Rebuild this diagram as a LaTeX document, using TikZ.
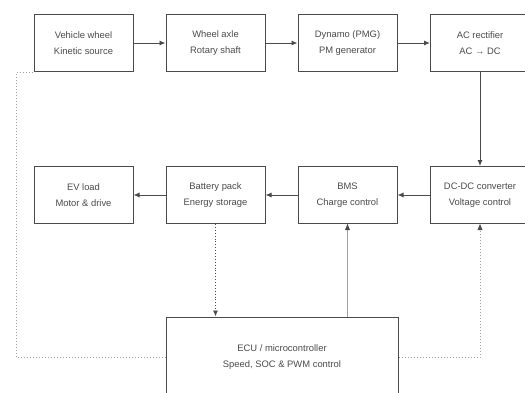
\documentclass[tikz,border=0pt]{standalone}
\usepackage{fontspec}
\setmainfont{Liberation Sans}
\usetikzlibrary{arrows.meta}
\definecolor{ink}{HTML}{4A4A4A}
\definecolor{soft}{HTML}{A0A0A0}
\tikzset{
  blk/.style={draw=ink, line width=1pt, minimum width=99pt, minimum height=57pt, align=center, font=\fontsize{9.4}{15.5}\selectfont, text=ink, inner sep=0pt},
  flow/.style={draw=ink, line width=0.9pt, -{Latex[length=6pt,width=5pt]}},
  ctl/.style={draw=soft, line width=1pt, dotted},
}
\begin{document}
\begin{tikzpicture}[x=1pt,y=-1pt]
\useasboundingbox (0,0) rectangle (525,392);
\node[blk] (wheel) at (83.5,43) {Vehicle wheel\\Kinetic source};
\node[blk] (axle) at (215.5,43) {Wheel axle\\Rotary shaft};
\node[blk] (dyn) at (347.5,43) {Dynamo (PMG)\\PM generator};
\node[blk] (rect) at (480,43) {AC rectifier\\AC → DC};
\node[blk] (ev) at (83.5,195) {EV load\\Motor \& drive};
\node[blk] (bat) at (215.5,195) {Battery pack\\Energy storage};
\node[blk] (bms) at (347.5,195) {BMS\\Charge control};
\node[blk] (dcdc) at (480,195) {DC-DC converter\\Voltage control};
\node[blk, minimum width=232pt, minimum height=80pt] (ecu) at (282,357) {ECU / microcontroller\\Speed, SOC \& PWM control};
\draw[flow] (wheel) -- (axle);
\draw[flow] (axle) -- (dyn);
\draw[flow] (dyn) -- (rect);
\draw[flow] (rect) -- (dcdc);
\draw[flow] (dcdc) -- (bms);
\draw[flow] (bms) -- (bat);
\draw[flow] (bat) -- (ev);
\draw[flow, dotted] (bat.south) -- (bat.south |- ecu.north);
\draw[draw=soft, line width=0.9pt] (bms.south |- ecu.north) -- (bms.south);
\fill[ink] (bms.south) -- ++(-2.5,6) -- ++(5,0) -- cycle;
\coordinate (lc) at (16,357);
\coordinate (lt) at (16,72);
\draw[ctl] (ecu.west) -- (lc) -- (lt) -- (wheel.south west);
\coordinate (rc) at (dcdc.south |- ecu.west);
\draw[ctl] (ecu.east) -- (rc) -- (dcdc.south);
\fill[ink] (dcdc.south) -- ++(-2.5,6) -- ++(5,0) -- cycle;
\end{tikzpicture}
\end{document}
